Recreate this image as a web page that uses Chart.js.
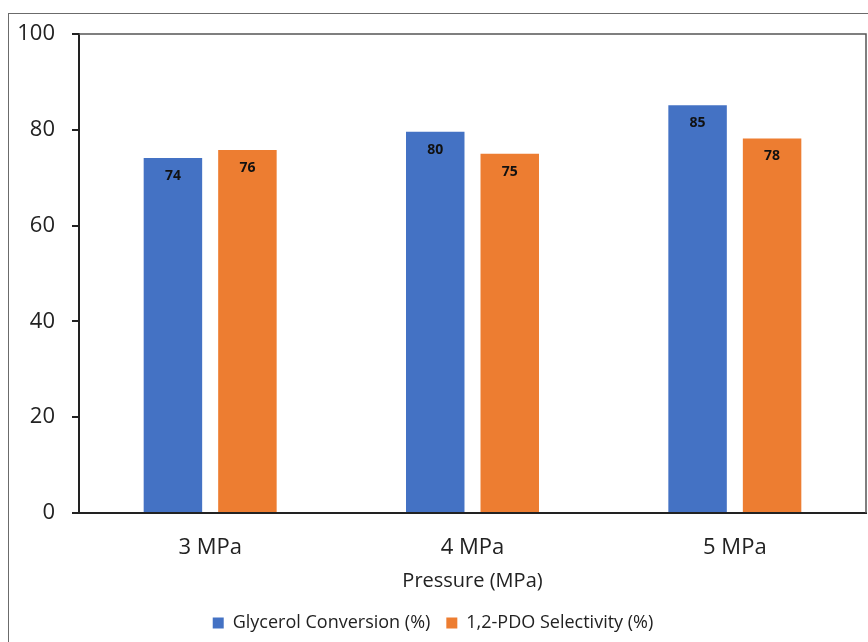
<!DOCTYPE html>
<html>
<head>
<meta charset="utf-8">
<script src="https://cdn.jsdelivr.net/npm/chart.js@4.4.0/dist/chart.umd.min.js"></script>
<style>
    body { margin: 0; background: #fff; }
    #wrap { position: relative; width: 868px; height: 642px; overflow: hidden; }
    #frame { position: absolute; left: 8px; top: 13px; width: 900px; height: 700px;
             border-left: 1.5px solid #6b6b6b; border-top: 1.5px solid #6b6b6b; }
    canvas { position: absolute; left: 0; top: 0; }
</style>
</head>
<body>
<div id="wrap">
    <div id="frame"></div>
    <canvas id="chart" width="868" height="642"></canvas>
</div>
<script>
const categories = ["3 MPa", "4 MPa", "5 MPa"];
const conversion = [74.1, 79.6, 85.1];
const selectivity = [75.8, 75.0, 78.2];
const yTicks = [0, 20, 40, 60, 80, 100];

const fontName = "'Open Sans', 'Noto Sans', sans-serif";

// value labels inside the top of each bar
const barLabels = {
    id: "barLabels",
    afterDatasetsDraw(chart) {
        const ctx = chart.ctx;
        ctx.save();
        ctx.font = "bold 14px " + fontName;
        ctx.fillStyle = "#111";
        ctx.textAlign = "center";
        ctx.textBaseline = "middle";
        chart.data.datasets.forEach((ds, i) => {
            chart.getDatasetMeta(i).data.forEach((bar, j) => {
                ctx.fillText(Math.round(ds.data[j]), bar.x, bar.y + 18);
            });
        });
        ctx.restore();
    }
};

// thin grey box on top and right of plot area
const plotBox = {
    id: "plotBox",
    beforeDatasetsDraw(chart) {
        const a = chart.chartArea;
        const ctx = chart.ctx;
        ctx.save();
        ctx.strokeStyle = "#555";
        ctx.lineWidth = 1.5;
        ctx.beginPath();
        ctx.moveTo(a.left, a.top);
        ctx.lineTo(a.right, a.top);
        ctx.lineTo(a.right, a.bottom);
        ctx.stroke();
        ctx.restore();
    }
};

const ctx = document.getElementById("chart").getContext("2d");
new Chart(ctx, {
    type: "bar",
    data: {
        labels: categories,
        datasets: [{
            label: "Glycerol Conversion (%)",
            data: conversion,
            backgroundColor: "#4472C4",
            categoryPercentage: 0.568,
            barPercentage: 0.785
        }, {
            label: "1,2-PDO Selectivity (%)",
            data: selectivity,
            backgroundColor: "#ED7D31",
            categoryPercentage: 0.568,
            barPercentage: 0.785
        }]
    },
    options: {
        responsive: false,
        animation: false,
        layout: { padding: { top: 34, right: 2, left: 0, bottom: 0 } },
        plugins: {
            legend: {
                position: "bottom",
                labels: {
                    color: "#222",
                    boxWidth: 11,
                    boxHeight: 11,
                    padding: 16,
                    font: { family: fontName, size: 18 }
                }
            },
            tooltip: { enabled: false }
        },
        scales: {
            x: {
                grid: { display: false, drawTicks: false },
                border: { color: "#222", width: 2 },
                ticks: { color: "#222", padding: 22, font: { family: fontName, size: 22 } },
                title: {
                    display: true,
                    text: "Pressure (MPa)",
                    color: "#222",
                    padding: { top: 2, bottom: 5 },
                    font: { family: fontName, size: 20 }
                },
                afterFit(scale) { scale.height = 85; }
            },
            y: {
                min: 0,
                max: 100,
                afterBuildTicks(scale) { scale.ticks = yTicks.map(v => ({ value: v })); },
                grid: { drawOnChartArea: false, drawTicks: true, tickLength: 7, color: "#222", lineWidth: 2 },
                border: { color: "#222", width: 2 },
                ticks: { color: "#222", padding: 17, font: { family: fontName, size: 22 } },
                afterFit(scale) { scale.width = 79; }
            }
        }
    },
    plugins: [barLabels, plotBox]
});
</script>
</body>
</html>
